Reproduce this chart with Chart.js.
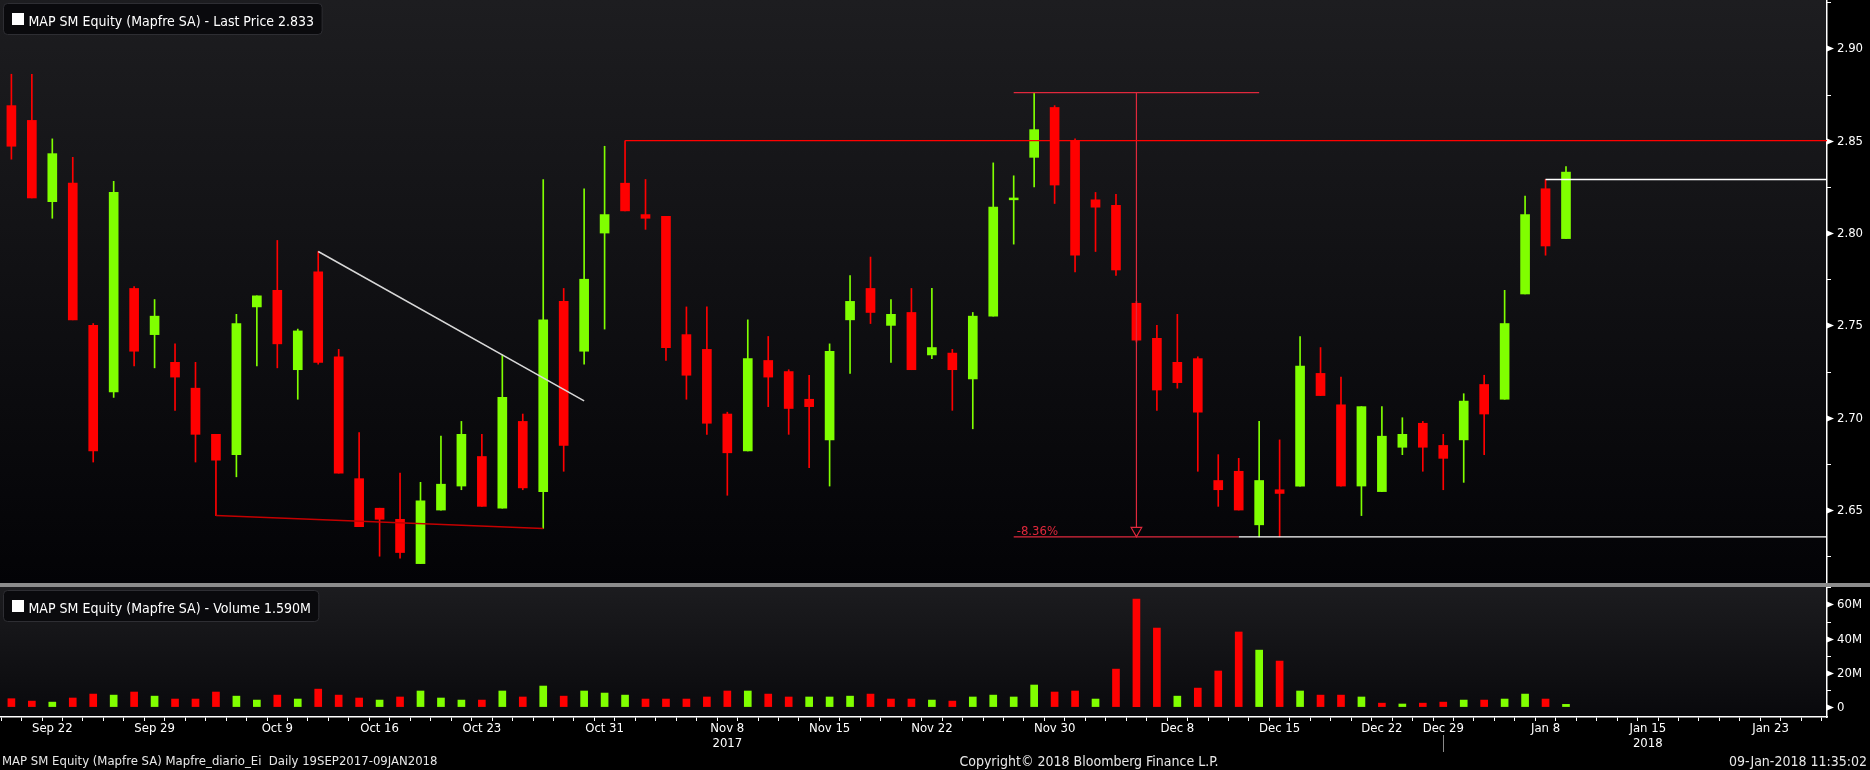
<!DOCTYPE html>
<html><head><meta charset="utf-8">
<script src="https://cdn.jsdelivr.net/npm/chart.js@4.4.1/dist/chart.umd.min.js"></script>
<style>
html,body{margin:0;padding:0;background:#000;width:1870px;height:770px;overflow:hidden;}
#p{position:absolute;left:0;top:0;width:1870px;height:583px;}
#sep{position:absolute;left:0;top:583px;width:1870px;height:4px;background:#8c8c8c;}
#v{position:absolute;left:0;top:587px;width:1870px;height:183px;}
</style></head><body>
<div id="p"><canvas id="pc"></canvas></div>
<div id="sep"></div>
<div id="v"><canvas id="vc"></canvas></div>
<script>
const FONT = "'Liberation Sans Narrow','Arial Narrow','DejaVu Sans Condensed',sans-serif";

// trading days (categories)
const days = ['2017-09-20','2017-09-21','2017-09-22','2017-09-25','2017-09-26','2017-09-27','2017-09-28','2017-09-29',
'2017-10-02','2017-10-03','2017-10-04','2017-10-05','2017-10-06','2017-10-09','2017-10-10','2017-10-11','2017-10-12','2017-10-13',
'2017-10-16','2017-10-17','2017-10-18','2017-10-19','2017-10-20','2017-10-23','2017-10-24','2017-10-25','2017-10-26','2017-10-27',
'2017-10-30','2017-10-31','2017-11-01','2017-11-02','2017-11-03','2017-11-06','2017-11-07','2017-11-08','2017-11-09','2017-11-10',
'2017-11-13','2017-11-14','2017-11-15','2017-11-16','2017-11-17','2017-11-20','2017-11-21','2017-11-22','2017-11-23','2017-11-24',
'2017-11-27','2017-11-28','2017-11-29','2017-11-30','2017-12-01','2017-12-04','2017-12-05','2017-12-06','2017-12-07','2017-12-08',
'2017-12-11','2017-12-12','2017-12-13','2017-12-14','2017-12-15','2017-12-18','2017-12-19','2017-12-20','2017-12-21','2017-12-22',
'2017-12-27','2017-12-28','2017-12-29','2018-01-02','2018-01-03','2018-01-04','2018-01-05','2018-01-08','2018-01-09'];

const openP = [
2.869,2.861,2.817,2.827,2.750,2.714,2.770,2.745,2.730,2.716,
2.691,2.680,2.760,2.769,2.726,2.779,2.733,2.667,2.651,2.645,
2.621,2.650,2.663,2.679,2.651,2.698,2.660,2.763,2.736,2.800,
2.827,2.810,2.809,2.745,2.737,2.702,2.682,2.731,2.725,2.710,
2.688,2.753,2.770,2.750,2.757,2.734,2.735,2.721,2.755,2.818,
2.841,2.868,2.850,2.818,2.815,2.762,2.743,2.730,2.732,2.666,
2.671,2.642,2.661,2.663,2.724,2.707,2.663,2.660,2.684,2.697,
2.685,2.688,2.718,2.710,2.767,2.824,2.797];
const highP = [
2.886,2.886,2.851,2.841,2.751,2.828,2.771,2.764,2.740,2.730,
2.691,2.756,2.766,2.796,2.748,2.790,2.737,2.692,2.651,2.670,
2.665,2.690,2.698,2.691,2.734,2.702,2.829,2.770,2.824,2.847,
2.850,2.829,2.809,2.760,2.760,2.703,2.753,2.744,2.726,2.723,
2.740,2.777,2.787,2.764,2.770,2.770,2.737,2.757,2.838,2.831,
2.876,2.869,2.851,2.822,2.821,2.763,2.750,2.756,2.733,2.680,
2.678,2.698,2.688,2.744,2.738,2.722,2.706,2.706,2.700,2.698,
2.691,2.713,2.723,2.769,2.820,2.829,2.836];
const lowP = [
2.840,2.819,2.808,2.753,2.676,2.711,2.728,2.727,2.704,2.676,
2.647,2.668,2.728,2.727,2.710,2.729,2.670,2.641,2.625,2.624,
2.621,2.650,2.661,2.652,2.651,2.661,2.640,2.671,2.729,2.748,
2.812,2.802,2.731,2.710,2.691,2.658,2.682,2.706,2.691,2.673,
2.663,2.724,2.751,2.730,2.726,2.732,2.704,2.694,2.755,2.794,
2.825,2.816,2.779,2.790,2.777,2.741,2.704,2.716,2.671,2.652,
2.650,2.6355,2.6355,2.663,2.712,2.663,2.647,2.660,2.680,2.671,
2.661,2.665,2.680,2.710,2.767,2.788,2.797];
const closeP = [
2.847,2.819,2.843,2.753,2.682,2.822,2.736,2.755,2.722,2.691,
2.677,2.751,2.766,2.740,2.747,2.730,2.670,2.641,2.645,2.627,
2.655,2.664,2.691,2.652,2.711,2.662,2.753,2.685,2.775,2.810,
2.812,2.808,2.738,2.723,2.697,2.681,2.732,2.722,2.705,2.706,
2.736,2.763,2.757,2.756,2.726,2.738,2.726,2.755,2.814,2.819,
2.856,2.826,2.788,2.814,2.780,2.742,2.715,2.719,2.703,2.661,
2.650,2.666,2.659,2.728,2.712,2.663,2.706,2.690,2.691,2.684,
2.678,2.709,2.702,2.751,2.810,2.793,2.833];
// volume in millions
const volumeM = [
4.9,3.5,2.9,5.3,7.6,7.0,8.8,6.4,4.7,4.7,
8.8,6.4,4.1,7.0,4.7,10.5,7.0,5.3,4.1,5.9,
9.4,5.3,4.1,4.1,9.4,5.9,12.3,6.4,9.4,8.2,
7.0,4.7,4.7,4.7,5.9,9.4,9.4,7.6,5.9,5.9,
5.9,6.4,7.6,4.7,4.7,4.1,3.5,5.9,7.0,5.9,
12.9,8.8,9.4,4.7,22.2,63.2,46.2,6.4,11.1,21.1,
43.9,33.3,26.9,9.4,7.0,7.0,5.9,2.3,1.8,2.3,
2.9,4.1,4.1,4.7,7.6,4.7,1.59];

// x tick labels (trading-day index on the axis)
const xTickPos  = [2,7,13,18,23,29,35,40,45,51,57,62,67,70,75,80,86];
const xTickText = ['Sep 22','Sep 29','Oct 9','Oct 16','Oct 23','Oct 31','Nov 8','Nov 15','Nov 22','Nov 30','Dec 8','Dec 15','Dec 22','Dec 29','Jan 8','Jan 15','Jan 23'];
const yearPos  = [35,80];
const yearText = ['2017','2018'];
const yearMarkPos = 70;

const priceTicks = [2.625,2.65,2.675,2.70,2.725,2.75,2.775,2.80,2.825,2.85,2.875,2.90,2.925];
const priceTickLabels = ['','2.65','','2.70','','2.75','','2.80','','2.85','','2.90',''];
const volTicks = [0,10,20,30,40,50,60,70];
const volTickLabels = ['0','','20M','','40M','','60M',''];

// axis ranges
const X_MIN = -0.557, X_MAX = 88.76;
const P_MIN = 2.6105, P_MAX = 2.9262;
const V_MIN = -5.8, V_MAX = 70.2;

const GREEN = '#80ff00', RED = '#ff0000', MEAS = '#e0283c';
const idx = days.map((d,i)=>i);

// annotations derived from the price data
const trendA = 15, trendB = 24, trendEnd = 28;
const trendSlope = (highP[trendB]-highP[trendA])/(trendB-trendA);
const measHi = highP[50], measLo = lowP[61];
const measPct = ((measLo-measHi)/measHi*100).toFixed(2)+'%';

const candleColor = idx.map(i => closeP[i] >= openP[i] ? GREEN : RED);
const volColor = idx.map(i => (i===0 ? closeP[i] >= openP[i] : closeP[i] >= closeP[i-1]) ? GREEN : RED);

function lineDs(pts, color, w) {
  return {type:'line', data: pts.map(p=>({x:p[0], y:p[1]})), borderColor: color, borderWidth: w,
          pointRadius: 0, fill: false, tension: 0, order: 0};
}

function bgPlugin(top, bottom) {
  return {id:'bg', beforeDraw(chart){
    const {ctx, chartArea:a} = chart;
    const g = ctx.createLinearGradient(0, a.top, 0, a.bottom);
    g.addColorStop(0, top); g.addColorStop(1, bottom);
    ctx.save(); ctx.fillStyle = g; ctx.fillRect(a.left, a.top, a.width, a.height); ctx.restore();
  }};
}
function yTickPlugin(labels) {
  return {id:'ytm', afterDraw(chart){
    const s = chart.scales.y, c = chart.ctx;
    c.save(); c.fillStyle = '#fff'; c.strokeStyle = '#fff'; c.lineWidth = 1;
    c.font = '13px ' + FONT; c.textAlign = 'left'; c.textBaseline = 'middle';
    s.ticks.forEach((t, i) => {
      const y = Math.round(s.getPixelForValue(t.value)) + 0.5;
      const x = s.left;
      if (labels[i] !== '') {
        c.beginPath(); c.moveTo(x, y-3); c.lineTo(x+7, y); c.lineTo(x, y+3); c.closePath(); c.fill();
        c.fillText(labels[i], x + 10, y);
      } else {
        c.beginPath(); c.moveTo(x, y); c.lineTo(x+4, y); c.stroke();
      }
    });
    c.restore();
  }};
}
function legendPlugin(text) {
  return {id:'lg', afterDraw(chart){
    const c = chart.ctx;
    c.save();
    c.font = '14px ' + FONT;
    const w = c.measureText(text).width;
    const x0 = 3.5, y0 = 3.5, bw = 28.5 + w + 8 - x0, bh = 31, r = 4;
    c.beginPath();
    c.moveTo(x0+r, y0); c.lineTo(x0+bw-r, y0); c.quadraticCurveTo(x0+bw, y0, x0+bw, y0+r);
    c.lineTo(x0+bw, y0+bh-r); c.quadraticCurveTo(x0+bw, y0+bh, x0+bw-r, y0+bh);
    c.lineTo(x0+r, y0+bh); c.quadraticCurveTo(x0, y0+bh, x0, y0+bh-r);
    c.lineTo(x0, y0+r); c.quadraticCurveTo(x0, y0, x0+r, y0); c.closePath();
    c.fillStyle = '#0a0a0d'; c.fill(); c.strokeStyle = '#2e2e33'; c.lineWidth = 1; c.stroke();
    c.fillStyle = '#ffffff'; c.fillRect(12, 13, 12, 12);
    c.textBaseline = 'alphabetic'; c.textAlign = 'left';
    c.fillText(text, 28.5, 25.5);
    c.restore();
  }};
}
const measPlugin = {id:'meas', afterDatasetsDraw(chart){
  const xs = chart.scales.x, ys = chart.scales.y, c = chart.ctx;
  const x = xs.getPixelForValue(55), y = ys.getPixelForValue(measLo);
  c.save();
  c.beginPath(); c.moveTo(x-5.3, y-9.4); c.lineTo(x+5.3, y-9.4); c.lineTo(x, y); c.closePath();
  c.fillStyle = '#060609'; c.fill();
  c.strokeStyle = MEAS; c.lineWidth = 1.2; c.stroke();
  c.font = '13px ' + FONT; c.fillStyle = MEAS; c.textAlign = 'left'; c.textBaseline = 'alphabetic';
  c.fillText(measPct, xs.getPixelForValue(49) + 3, y - 2);
  c.restore();
}};
const footPlugin = {id:'foot', afterDraw(chart){
  const c = chart.ctx, xs = chart.scales.x;
  c.save();
  c.fillStyle = '#e8e8e8'; c.textBaseline = 'middle';
  c.font = '13px ' + FONT;
  c.textAlign = 'left';   c.fillText('MAP SM Equity (Mapfre SA) Mapfre_diario_Ei  Daily 19SEP2017-09JAN2018', 2, 175);
  c.font = '14px ' + FONT;
  c.textAlign = 'center'; c.fillText('Copyright\u00A9 2018 Bloomberg Finance L.P.', 1089, 175);
  c.textAlign = 'right';  c.fillText('09-Jan-2018 11:35:02', 1867, 175);
  const mx = Math.round(xs.getPixelForValue(yearMarkPos)) + 0.5;
  c.strokeStyle = '#8a8a8a'; c.lineWidth = 1;
  c.beginPath(); c.moveTo(mx, 148); c.lineTo(mx, 165); c.stroke();
  c.restore();
}};

const common = {
  responsive: true, maintainAspectRatio: false, animation: false, events: [],
  layout: {padding: 0, autoPadding: false},
  plugins: {legend: {display: false}, tooltip: {enabled: false}, title: {display: false}}
};

// ---------- price chart ----------
new Chart(document.getElementById('pc'), {
  type: 'bar',
  data: {
    datasets: [
      lineDs([[10, lowP[10]], [26, lowP[26]]], '#c40000', 1.5),
      lineDs([[trendA, highP[trendA]], [trendEnd, highP[trendA] + trendSlope*(trendEnd-trendA)]], '#d8d8d8', 1.5),
      lineDs([[30, highP[30]], [X_MAX, highP[30]]], RED, 1.3),
      lineDs([[49, measHi], [61, measHi]], MEAS, 1.2),
      lineDs([[55, measHi], [55, measLo]], MEAS, 1.2),
      lineDs([[49, measLo], [60, measLo]], MEAS, 1.2),
      lineDs([[60, measLo], [X_MAX, measLo]], '#ffffff', 1.3),
      lineDs([[75, highP[75]], [X_MAX, highP[75]]], '#ffffff', 1.3),
      {type:'bar', data: idx.map(i=>({x:i, y:[openP[i], closeP[i]]})), backgroundColor: candleColor,
       borderWidth: 0, barThickness: 9, grouped: false, order: 2},
      {type:'bar', data: idx.map(i=>({x:i, y:[lowP[i], highP[i]]})), backgroundColor: candleColor,
       borderWidth: 0, barThickness: 1, grouped: false, order: 3}
    ]
  },
  options: Object.assign({}, common, {
    scales: {
      x: {type:'linear', min: X_MIN, max: X_MAX, offset: false, display: false},
      y: {position:'right', min: P_MIN, max: P_MAX,
          afterBuildTicks: s => { s.ticks = priceTicks.map(v => ({value: v})); },
          afterFit: s => { s.width = 43; },
          grid: {drawOnChartArea: false, drawTicks: false},
          border: {color:'#ffffff', width: 1.5},
          ticks: {display: false}}
    }
  }),
  plugins: [bgPlugin('#1d1d20', '#030306'), yTickPlugin(priceTickLabels), measPlugin,
            legendPlugin('MAP SM Equity (Mapfre SA) - Last Price ' + closeP[closeP.length-1].toFixed(3))]
});

// ---------- volume chart ----------
const xTickValues = [];
for (let t = 0; t <= Math.floor(X_MAX); t++) xTickValues.push(t);
new Chart(document.getElementById('vc'), {
  type: 'bar',
  data: {
    datasets: [
      {data: idx.map(i=>({x:i, y: volumeM[i]})), backgroundColor: volColor, borderWidth: 0,
       barThickness: 7, grouped: false}
    ]
  },
  options: Object.assign({}, common, {
    scales: {
      x: {type:'linear', min: X_MIN, max: X_MAX, offset: false,
          afterBuildTicks: s => { s.ticks = xTickValues.map(v => ({value: v})); },
          afterFit: s => { s.height = 53; },
          grid: {drawOnChartArea: false, drawTicks: true, tickLength: 4, tickColor:'#ffffff', tickWidth: 1},
          border: {color:'#ffffff', width: 1.5},
          ticks: {autoSkip: false, maxRotation: 0, minRotation: 0, padding: 0, color:'#ffffff',
                  font: {family: FONT, size: 13, lineHeight: 1.15},
                  callback: (v) => {
                    const k = xTickPos.indexOf(v);
                    if (k < 0) return '';
                    const yk = yearPos.indexOf(v);
                    return yk < 0 ? xTickText[k] : [xTickText[k], yearText[yk]];
                  }}},
      y: {position:'right', min: V_MIN, max: V_MAX,
          afterBuildTicks: s => { s.ticks = volTicks.map(v => ({value: v})); },
          afterFit: s => { s.width = 43; },
          grid: {drawOnChartArea: false, drawTicks: false},
          border: {color:'#ffffff', width: 1.5},
          ticks: {display: false}}
    }
  }),
  plugins: [bgPlugin('#1c1c1f', '#09090c'), yTickPlugin(volTickLabels), footPlugin,
            legendPlugin('MAP SM Equity (Mapfre SA) - Volume ' + volumeM[volumeM.length-1].toFixed(3) + 'M')]
});
</script>
</body></html>
